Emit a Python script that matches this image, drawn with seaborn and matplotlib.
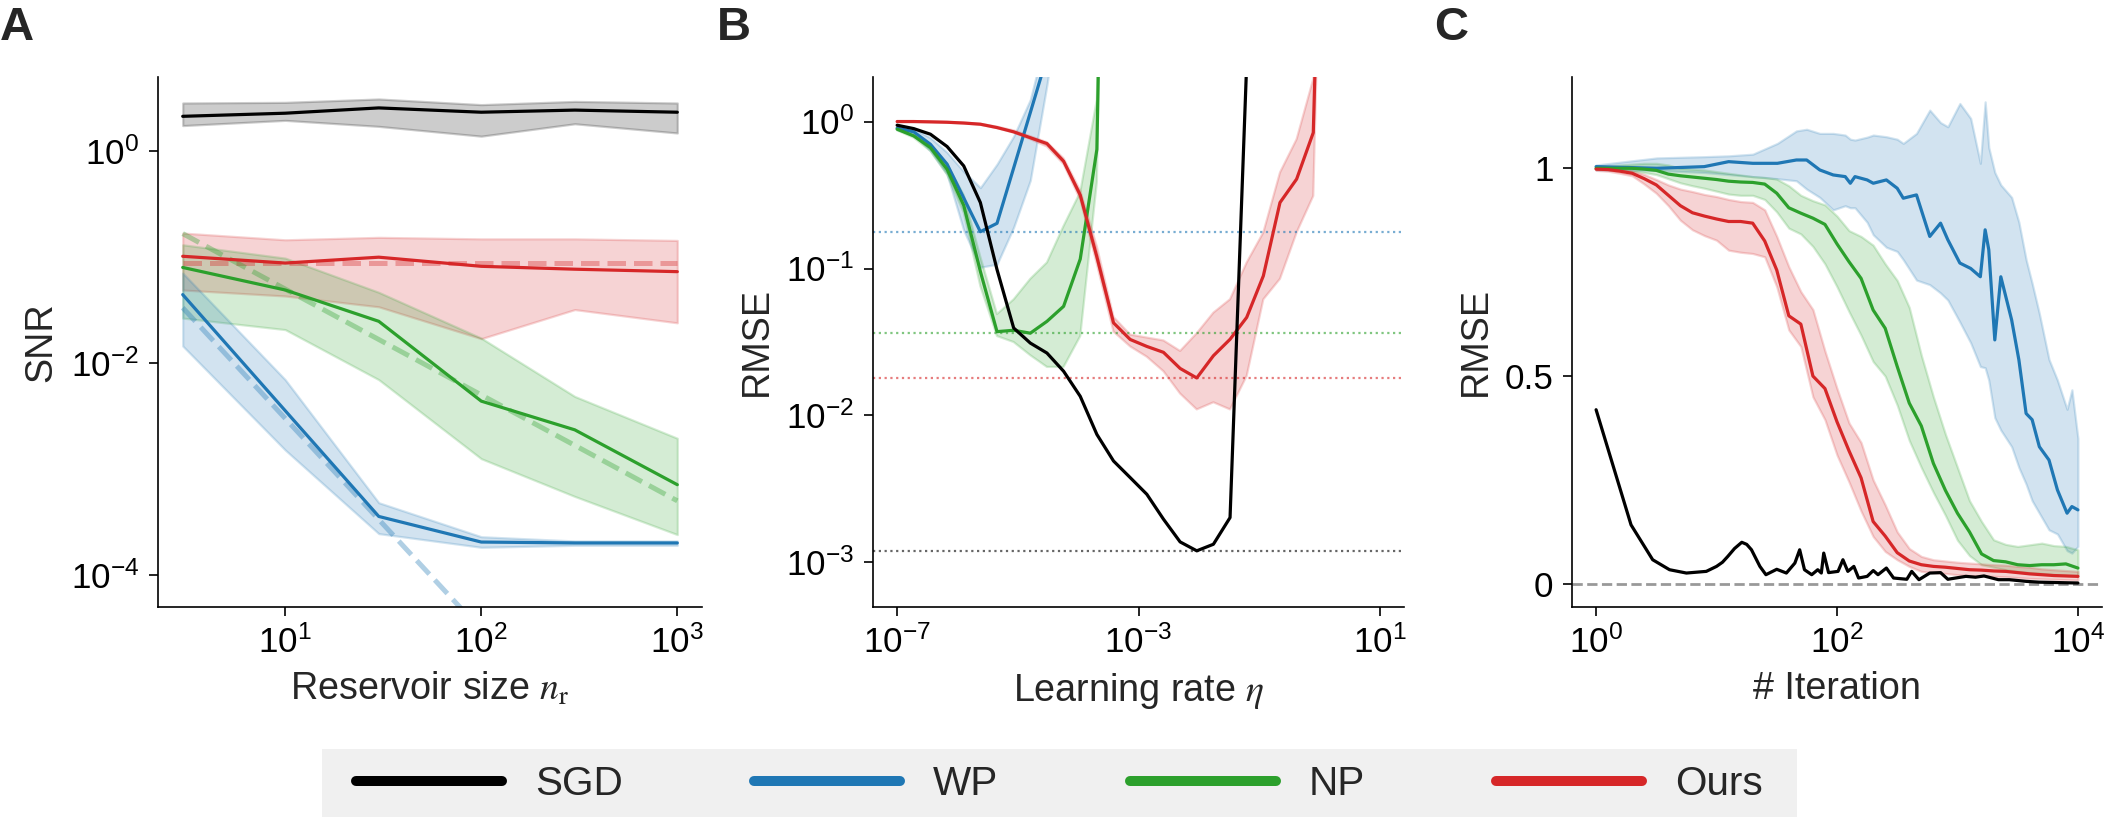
import numpy as np
import pandas as pd
import matplotlib
matplotlib.use("Agg")
import matplotlib.pyplot as plt
import seaborn as sns
from matplotlib.lines import Line2D
from matplotlib.patches import Rectangle
from matplotlib.ticker import FixedLocator, NullLocator, FixedFormatter, LogFormatterSciNotation

nan = np.nan

# ---------------- data ----------------
methods = ["SGD", "WP", "NP", "Ours"]
colors = {"SGD": "black", "WP": "#1f77b4", "NP": "#2ca02c", "Ours": "#d62728"}

# Panel A : SNR vs reservoir size
reservoir_sizes = [3, 10, 30, 100, 300, 1000]
snr_sgd = [2.14, 2.29, 2.57, 2.34, 2.45, 2.34]
snr_sgd_hi = [2.86, 2.90, 3.12, 2.76, 2.96, 2.86]
snr_sgd_lo = [1.75, 1.96, 1.72, 1.39, 1.82, 1.49]
snr_ours = [0.102, 0.088, 0.100, 0.082, 0.077, 0.073]
snr_ours_hi = [0.169, 0.146, 0.154, 0.149, 0.149, 0.144]
snr_ours_lo = [0.049, 0.043, 0.034, 0.017, 0.032, 0.024]
snr_np = [0.080, 0.049, 0.0248, 0.00437, 0.00234, 0.00071]
snr_np_hi = [0.131, 0.098, 0.0466, 0.0172, 0.00484, 0.00195]
snr_np_lo = [0.0266, 0.0207, 0.00697, 0.00125, 0.00055, 0.00024]
snr_wp = [0.0443, 0.00355, 0.000356, 0.000204, 0.000200, 0.000200]
snr_wp_hi = [0.0708, 0.00697, 0.00048, 0.000229, 0.000209, 0.000209]
snr_wp_lo = [0.0145, 0.00151, 0.000245, 0.000182, 0.000190, 0.000190]
theory_ours = [0.088, 0.088, 0.088, 0.088, 0.088, 0.088]
theory_np = [0.167, 0.05, 0.0167, 0.005, 0.00167, 0.0005]
theory_wp = [0.0333, 0.003, 0.000333, 0.00003, 0.0000033, 0.0000003]

# Panel B : RMSE vs learning rate
learning_rates = [1e-7, 1.887e-7, 3.562e-7, 6.723e-7, 1.269e-6, 2.395e-6, 4.520e-6, 8.532e-6,
                  1.610e-5, 3.039e-5, 5.736e-5, 1.083e-4, 2.043e-4, 3.857e-4, 7.279e-4,
                  1.374e-3, 2.593e-3, 4.894e-3, 9.237e-3, 1.743e-2, 3.290e-2, 6.210e-2,
                  0.1172, 0.2212, 0.4175, 0.7880, 1.487, 2.807, 5.298, 10.0]
lr_sgd = [0.944, 0.895, 0.820, 0.676, 0.499, 0.281, 0.0984, 0.0394, 0.0311, 0.0266, 0.0200,
          0.0135, 0.00743, 0.00490, 0.00378, 0.00291, 0.00197, 0.00138, 0.00120, 0.00133,
          0.00202, 2.5, nan, nan, nan, nan, nan, nan, nan, nan]
lr_wp = [0.902, 0.851, 0.700, 0.513, 0.302, 0.178, 0.203, 0.483, 1.15, 2.75, 10.0,
         nan, nan, nan, nan, nan, nan, nan, nan, nan, nan, nan, nan, nan, nan, nan, nan, nan, nan, nan]
lr_wp_hi = [0.933, 0.891, 0.776, 0.617, 0.457, 0.355, 0.513, 0.794, 1.41, 3.98, 30.0,
            nan, nan, nan, nan, nan, nan, nan, nan, nan, nan, nan, nan, nan, nan, nan, nan, nan, nan, nan]
lr_wp_lo = [0.881, 0.813, 0.631, 0.437, 0.182, 0.102, 0.107, 0.191, 0.398, 1.78, 10.0,
            nan, nan, nan, nan, nan, nan, nan, nan, nan, nan, nan, nan, nan, nan, nan, nan, nan, nan, nan]
lr_np = [0.887, 0.798, 0.665, 0.473, 0.269, 0.0955, 0.0372, 0.0380, 0.0363, 0.0437, 0.0553,
         0.116, 0.647, 1e6, nan, nan, nan, nan, nan, nan, nan, nan, nan, nan, nan, nan, nan, nan, nan, nan]
lr_np_hi = [0.902, 0.822, 0.700, 0.513, 0.316, 0.120, 0.049, 0.0617, 0.0851, 0.110, 0.195,
            0.331, 1.41, 1e6, nan, nan, nan, nan, nan, nan, nan, nan, nan, nan, nan, nan, nan, nan, nan, nan]
lr_np_lo = [0.871, 0.776, 0.631, 0.437, 0.240, 0.0759, 0.0347, 0.0316, 0.0257, 0.0214, 0.0214,
            0.0347, 0.389, 1e6, nan, nan, nan, nan, nan, nan, nan, nan, nan, nan, nan, nan, nan, nan, nan, nan]
lr_ours = [1.0, 1.0, 0.995, 0.989, 0.977, 0.959, 0.910, 0.851, 0.776, 0.708, 0.537, 0.316, 0.120,
           0.0427, 0.0329, 0.0295, 0.0269, 0.0209, 0.0180, 0.0255, 0.0330, 0.0465, 0.0891, 0.281,
           0.406, 0.841, 1e4, nan, nan, nan]
lr_ours_hi = [1.007, 1.007, 1.002, 0.995, 0.984, 0.966, 0.923, 0.871, 0.794, 0.724, 0.562, 0.339,
              0.141, 0.0468, 0.0355, 0.0339, 0.0324, 0.0275, 0.0363, 0.0501, 0.0618, 0.110, 0.176,
              0.450, 0.759, 1.95, 1e4, nan, nan, nan]
lr_ours_lo = [0.993, 0.993, 0.989, 0.982, 0.970, 0.951, 0.902, 0.841, 0.759, 0.676, 0.513, 0.295,
              0.107, 0.0372, 0.0295, 0.0251, 0.0200, 0.0141, 0.0110, 0.0123, 0.0110, 0.0186, 0.0617,
              0.0851, 0.176, 0.312, 1e4, nan, nan, nan]

# Panel C : RMSE vs iteration
iters_grid = [1, 1.259, 1.585, 1.995, 2.512, 3.162, 3.981, 5.012, 6.310, 7.943, 10, 12.59, 15.85,
              19.95, 25.12, 31.62, 39.81, 50.12, 63.10, 79.43, 100, 125.9, 158.5, 199.5, 251.2,
              316.2, 398.1, 501.2, 631.0, 794.3, 1000, 1259, 1585, 1995, 2512, 3162, 3981, 5012,
              6310, 7943, 10000]
it_ours = [0.998, 0.997, 0.993, 0.988, 0.975, 0.960, 0.935, 0.910, 0.893, 0.885, 0.878, 0.872, 0.872,
           0.868, 0.825, 0.755, 0.645, 0.625, 0.500, 0.470, 0.390, 0.320, 0.255, 0.150, 0.115, 0.075,
           0.055, 0.046, 0.042, 0.040, 0.037, 0.034, 0.033, 0.031, 0.030, 0.027, 0.024, 0.022, 0.020,
           0.019, 0.018]
it_ours_hi = [1.0, 1.0, 0.998, 0.993, 0.985, 0.973, 0.960, 0.950, 0.944, 0.937, 0.932, 0.925, 0.920,
              0.918, 0.900, 0.836, 0.763, 0.703, 0.660, 0.560, 0.470, 0.387, 0.340, 0.250, 0.190,
              0.125, 0.085, 0.066, 0.058, 0.055, 0.052, 0.050, 0.048, 0.046, 0.045, 0.042, 0.040,
              0.036, 0.034, 0.032, 0.030]
it_ours_lo = [0.995, 0.993, 0.988, 0.982, 0.962, 0.940, 0.910, 0.875, 0.852, 0.838, 0.827, 0.803,
              0.798, 0.795, 0.787, 0.715, 0.611, 0.571, 0.450, 0.395, 0.310, 0.245, 0.175, 0.114,
              0.078, 0.058, 0.042, 0.030, 0.027, 0.025, 0.022, 0.020, 0.019, 0.018, 0.017, 0.015,
              0.013, 0.012, 0.011, 0.010, 0.009]
it_np = [1.0, 1.0, 1.0, 1.0, 0.998, 0.995, 0.986, 0.982, 0.979, 0.976, 0.973, 0.969, 0.967, 0.966,
         0.962, 0.940, 0.905, 0.892, 0.880, 0.865, 0.818, 0.775, 0.735, 0.659, 0.615, 0.523, 0.435,
         0.380, 0.290, 0.225, 0.170, 0.125, 0.072, 0.056, 0.053, 0.046, 0.044, 0.046, 0.046, 0.048,
         0.038]
it_np_hi = [1.005, 1.006, 1.008, 1.010, 1.012, 1.012, 1.008, 1.000, 0.998, 0.996, 0.992, 0.988,
            0.984, 0.980, 0.978, 0.974, 0.958, 0.935, 0.922, 0.912, 0.885, 0.850, 0.836, 0.815,
            0.770, 0.730, 0.665, 0.550, 0.450, 0.360, 0.280, 0.200, 0.150, 0.106, 0.095, 0.090,
            0.094, 0.098, 0.092, 0.090, 0.082]
it_np_lo = [0.998, 0.997, 0.995, 0.993, 0.990, 0.985, 0.975, 0.965, 0.958, 0.952, 0.945, 0.938,
            0.935, 0.935, 0.925, 0.895, 0.856, 0.842, 0.812, 0.770, 0.715, 0.655, 0.598, 0.535,
            0.500, 0.430, 0.345, 0.280, 0.220, 0.165, 0.105, 0.068, 0.046, 0.040, 0.034, 0.030,
            0.027, 0.025, 0.022, 0.020, 0.018]
iters_wp = [1, 3.2, 7.9, 12.6, 20, 32, 46, 56, 72, 93, 117, 129, 141, 178, 200, 257, 316, 355, 457,
            589, 724, 832, 1047, 1288, 1549, 1698, 1820, 2042, 2291, 2818, 3236, 3715, 4169, 4786,
            5754, 6761, 8128, 8913, 10000]
it_wp = [1.004, 1.0, 1.004, 1.016, 1.012, 1.012, 1.02, 1.02, 0.996, 0.984, 0.98, 0.964, 0.98, 0.972,
         0.964, 0.972, 0.952, 0.928, 0.936, 0.836, 0.868, 0.828, 0.772, 0.759, 0.739, 0.852, 0.804,
         0.587, 0.739, 0.635, 0.539, 0.41, 0.395, 0.33, 0.298, 0.226, 0.17, 0.186, 0.178]
it_wp_hi = [1.008, 1.025, 1.028, 1.03, 1.034, 1.06, 1.09, 1.094, 1.084, 1.084, 1.08, 1.07, 1.068,
            1.075, 1.08, 1.076, 1.07, 1.06, 1.084, 1.14, 1.11, 1.10, 1.156, 1.12, 1.012, 1.16, 1.05,
            0.99, 0.96, 0.93, 0.87, 0.78, 0.723, 0.65, 0.54, 0.49, 0.42, 0.467, 0.35]
it_wp_lo = [0.996, 0.995, 0.99, 0.985, 0.98, 0.975, 0.97, 0.95, 0.93, 0.90, 0.91, 0.905, 0.905, 0.87,
            0.84, 0.81, 0.80, 0.78, 0.731, 0.72, 0.70, 0.683, 0.63, 0.58, 0.523, 0.52, 0.49, 0.40,
            0.37, 0.33, 0.28, 0.24, 0.20, 0.17, 0.13, 0.12, 0.08, 0.074, 0.09]
iters_sgd = [1, 1.95, 2.95, 4.07, 5.62, 8.22, 10, 11.2, 12.4, 14.1, 16.2, 17.8, 19.5, 22.9, 25.7,
             31.6, 38.0, 44.7, 49.0, 53.7, 61.7, 69.2, 74.1, 77.6, 85.1, 102, 112, 123, 138, 151,
             178, 200, 219, 257, 295, 380, 417, 479, 589, 724, 832, 1175, 1413, 1660, 2188, 2692,
             3715, 4786, 10000]
it_sgd = [0.419, 0.142, 0.058, 0.034, 0.026, 0.030, 0.042, 0.052, 0.066, 0.085, 0.100, 0.095, 0.082,
          0.042, 0.022, 0.035, 0.026, 0.050, 0.082, 0.034, 0.022, 0.034, 0.026, 0.074, 0.027, 0.030,
          0.058, 0.030, 0.042, 0.014, 0.018, 0.032, 0.022, 0.038, 0.014, 0.011, 0.030, 0.010, 0.026,
          0.027, 0.011, 0.018, 0.016, 0.019, 0.010, 0.010, 0.006, 0.004, 0.002]

# ---------------- style ----------------
sns.set_style("ticks")
plt.rcParams["font.family"] = ["Liberation Sans", "DejaVu Sans"]
plt.rcParams["mathtext.fontset"] = "stix"
plt.rcParams["axes.linewidth"] = 0.6
plt.rcParams["xtick.major.width"] = 0.6
plt.rcParams["ytick.major.width"] = 0.6
plt.rcParams["xtick.major.size"] = 3.2
plt.rcParams["ytick.major.size"] = 3.2
plt.rcParams["xtick.labelsize"] = 12.6
plt.rcParams["ytick.labelsize"] = 12.6
plt.rcParams["axes.labelsize"] = 13.6
plt.rcParams["xtick.color"] = "black"
plt.rcParams["ytick.color"] = "black"
plt.rcParams["axes.edgecolor"] = "black"

W, H = 2116, 817
DPI = 200
fig = plt.figure(figsize=(W / DPI, H / DPI), dpi=DPI)
top_px, bot_px = 77.3, 606.7


def add_ax(left, right):
    return fig.add_axes([left / W, 1 - bot_px / H, (right - left) / W, (bot_px - top_px) / H])


axA = add_ax(158, 702)
axB = add_ax(873, 1404)
axC = add_ax(1572, 2102)

LW = 1.15
BAND_A = 0.2

# ---- Panel A ----
axA.set_xscale("log")
axA.set_yscale("log")
for name, m, lo, hi in [("SGD", snr_sgd, snr_sgd_lo, snr_sgd_hi),
                        ("Ours", snr_ours, snr_ours_lo, snr_ours_hi),
                        ("NP", snr_np, snr_np_lo, snr_np_hi),
                        ("WP", snr_wp, snr_wp_lo, snr_wp_hi)]:
    axA.fill_between(reservoir_sizes, lo, hi, color=colors[name], alpha=BAND_A, lw=0.8)
for name, th in [("Ours", theory_ours), ("NP", theory_np), ("WP", theory_wp)]:
    sns.lineplot(x=reservoir_sizes, y=th, ax=axA, color=colors[name], lw=1.8, alpha=0.35,
                 linestyle="--", legend=False)
for name, m in [("SGD", snr_sgd), ("Ours", snr_ours), ("NP", snr_np), ("WP", snr_wp)]:
    sns.lineplot(x=reservoir_sizes, y=m, ax=axA, color=colors[name], lw=LW, legend=False)
axA.set_ylim(5e-5, 5)
axA.set_xlim(10 ** 0.351, 10 ** 3.126)
axA.yaxis.set_major_locator(FixedLocator([1e-4, 1e-2, 1]))
axA.xaxis.set_major_locator(FixedLocator([10, 100, 1000]))
axA.set_ylabel("SNR")
axA.set_xlabel(r"Reservoir size $n_\mathrm{r}$")

# ---- Panel B ----
axB.set_xscale("log")
axB.set_yscale("log")
for name, lo, hi in [("WP", lr_wp_lo, lr_wp_hi), ("NP", lr_np_lo, lr_np_hi), ("Ours", lr_ours_lo, lr_ours_hi)]:
    axB.fill_between(learning_rates, lo, hi, color=colors[name], alpha=BAND_A, lw=0.8)
for name, m in [("SGD", lr_sgd), ("WP", lr_wp), ("NP", lr_np), ("Ours", lr_ours)]:
    axB.axhline(np.nanmin(m), color=colors[name], lw=0.8, alpha=0.6, linestyle=(0, (1, 1.6)))
for name, m in [("WP", lr_wp), ("NP", lr_np), ("Ours", lr_ours), ("SGD", lr_sgd)]:
    sns.lineplot(x=learning_rates, y=m, ax=axB, color=colors[name], lw=LW, legend=False)
axB.set_ylim(5e-4, 2)
axB.set_xlim(10 ** -7.4, 10 ** 1.4)
axB.xaxis.set_major_locator(FixedLocator([1e-7, 1e-3, 1e1]))
axB.yaxis.set_major_locator(FixedLocator([1e-3, 1e-2, 1e-1, 1]))
axB.set_ylabel("RMSE")
axB.set_xlabel(r"Learning rate $\eta$")

# ---- Panel C ----
axC.set_xscale("log")
axC.fill_between(iters_wp, it_wp_lo, it_wp_hi, color=colors["WP"], alpha=BAND_A, lw=0.8)
axC.fill_between(iters_grid, it_np_lo, it_np_hi, color=colors["NP"], alpha=BAND_A, lw=0.8)
axC.fill_between(iters_grid, it_ours_lo, it_ours_hi, color=colors["Ours"], alpha=BAND_A, lw=0.8)
axC.axhline(0, color="#999999", lw=1.0, linestyle="--")
sns.lineplot(x=iters_wp, y=it_wp, ax=axC, color=colors["WP"], lw=LW, legend=False)
sns.lineplot(x=iters_grid, y=it_np, ax=axC, color=colors["NP"], lw=LW, legend=False)
sns.lineplot(x=iters_grid, y=it_ours, ax=axC, color=colors["Ours"], lw=LW, legend=False)
sns.lineplot(x=iters_sgd, y=it_sgd, ax=axC, color=colors["SGD"], lw=LW, legend=False)
axC.set_xlim(10 ** -0.2, 10 ** 4.2)
axC.set_ylim(-0.055, 1.219)
axC.xaxis.set_major_locator(FixedLocator([1, 100, 10000]))
axC.yaxis.set_major_locator(FixedLocator([0, 0.5, 1]))
axC.yaxis.set_major_formatter(FixedFormatter(["0", "0.5", "1"]))
axC.set_ylabel("RMSE")
axC.set_xlabel("# Iteration")

for ax in (axA, axB, axC):
    ax.xaxis.set_minor_locator(NullLocator())
    if ax is not axC:
        ax.yaxis.set_minor_locator(NullLocator())
        ax.yaxis.set_major_formatter(LogFormatterSciNotation())
    ax.xaxis.set_major_formatter(LogFormatterSciNotation())
    sns.despine(ax=ax)

# panel letters
for x_px, letter in [(0, "A"), (717, "B"), (1434, "C")]:
    fig.text(x_px / W, 1 - 6 / H, letter, fontsize=17, fontweight="bold", ha="left", va="top")

# legend
handles = [Line2D([], [], color=colors[m], lw=3.6) for m in methods]
fig.patches.append(Rectangle((322 / W, 0), (1797 - 322) / W, (817 - 749) / H,
                             transform=fig.transFigure, facecolor="#f0f0f0",
                             edgecolor="none", zorder=0))
fig.legend(handles, methods, loc="center", bbox_to_anchor=(1059.5 / W, 1 - 784 / H),
           ncol=4, frameon=False, fontsize=14.6, handlelength=3.6, handletextpad=0.8,
           columnspacing=3.25)

fig.savefig("out.png", dpi=DPI)
